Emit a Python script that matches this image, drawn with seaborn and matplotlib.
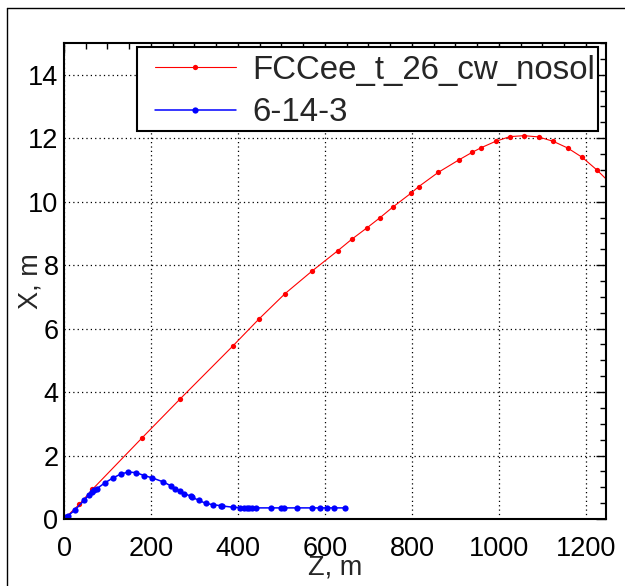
import numpy as np
import pandas as pd
import matplotlib
matplotlib.use('Agg')
import matplotlib.pyplot as plt
import seaborn as sns
from matplotlib.ticker import MultipleLocator

# Trajectory of the FCCee_t_26_cw_nosol lattice
z_fcc = [0, 35, 65, 179, 266, 388, 448, 508, 569, 629, 661, 696, 726, 756,
         798, 815, 860, 907, 939, 959, 992, 1025, 1058, 1091, 1125, 1158,
         1191, 1225, 1262]
x_fcc = [0, 0.46, 0.93, 2.55, 3.77, 5.45, 6.30, 7.10, 7.80, 8.45, 8.81, 9.17,
         9.49, 9.83, 10.27, 10.47, 10.92, 11.31, 11.56, 11.70, 11.90, 12.05,
         12.08, 12.04, 11.90, 11.69, 11.40, 11.00, 10.50]

# Trajectory of 6-14-3
z_614 = [0, 5, 10, 25, 47, 58, 65, 70, 75, 94, 112, 131, 148, 166, 184, 202,
         228, 245, 255, 267, 277, 291, 295, 310, 326, 343, 360, 364, 389, 404,
         414, 420, 426, 433, 441, 475, 500, 506, 535, 570, 589, 604, 621, 646]
x_614 = [0, 0.05, 0.11, 0.28, 0.60, 0.77, 0.84, 0.90, 0.95, 1.14, 1.29, 1.42,
         1.48, 1.46, 1.37, 1.30, 1.17, 1.05, 0.96, 0.88, 0.80, 0.72, 0.68,
         0.59, 0.49, 0.45, 0.42, 0.41, 0.37, 0.36, 0.35, 0.35, 0.35, 0.35,
         0.35, 0.35, 0.35, 0.35, 0.35, 0.35, 0.35, 0.35, 0.35, 0.35]

sns.set_style('white')
plt.rcParams['font.family'] = ['Liberation Sans', 'DejaVu Sans']

fig = plt.figure(figsize=(6.25, 5.86), dpi=100)
ax = fig.add_axes([64/625, 1-519/586, (606-64)/625, (519-43)/586])

sns.lineplot(x=z_fcc, y=x_fcc, ax=ax, color='red', lw=0.8, marker='o',
             markersize=3.8, markeredgewidth=0, sort=False, estimator=None,
             label='FCCee_t_26_cw_nosol')
sns.lineplot(x=z_614, y=x_614, ax=ax, color='blue', lw=1.1, marker='o',
             markersize=4.5, markeredgewidth=0, sort=False, estimator=None,
             label='6-14-3')

ax.set_xlim(0, 1246)
ax.set_ylim(0, 15)
ax.xaxis.set_major_locator(MultipleLocator(200))
ax.xaxis.set_minor_locator(MultipleLocator(50))
ax.yaxis.set_major_locator(MultipleLocator(2))
ax.yaxis.set_minor_locator(MultipleLocator(0.5))
ax.tick_params(which='both', direction='in', top=True, right=True,
               labelsize=19.5, colors='black')
ax.tick_params(which='major', length=7, width=1)
ax.tick_params(which='minor', length=4.5, width=1)
ax.tick_params(axis='x', pad=12)
ax.tick_params(axis='y', pad=4)
ax.grid(True, which='major', color='black', ls=(0, (1, 2.5)), lw=0.9)
for s in ax.spines.values():
    s.set_color('black')
    s.set_linewidth(1.5)

ax.set_xlabel('Z, m', fontsize=19.5, labelpad=-5)
ax.set_ylabel('X, m', fontsize=19.5, labelpad=-11)

# legend box drawn separately, entries placed inside it
box = plt.Rectangle((137/625, 1-131/586), (598-137)/625, (131-47)/586,
                    transform=fig.transFigure, facecolor='white',
                    edgecolor='black', lw=1.5, zorder=5)
fig.add_artist(box)
leg = ax.legend(loc='upper left', bbox_to_anchor=(155/625, 1-55/586),
                bbox_transform=fig.transFigure, fontsize=23.8, frameon=False,
                borderaxespad=0, borderpad=0, labelspacing=0.34,
                handlelength=2.45, handletextpad=0.5)
leg.set_zorder(6)
fig.add_artist(leg)

# pad border lines (ROOT-like canvas frame)
fig.add_artist(plt.Line2D([7/625, 7/625], [0, 1-8/586], color='black', lw=1,
                          transform=fig.transFigure))
fig.add_artist(plt.Line2D([7/625, 1], [1-8/586, 1-8/586], color='black', lw=1,
                          transform=fig.transFigure))

fig.savefig('out.png', dpi=100)
